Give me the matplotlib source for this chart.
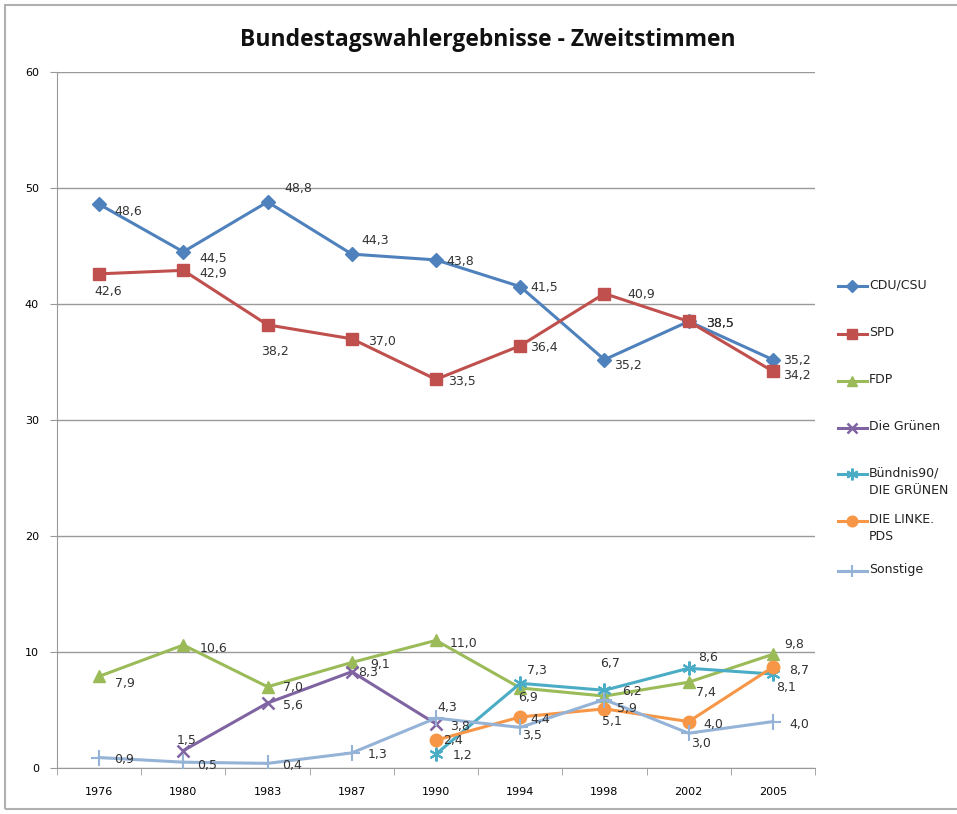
import matplotlib
matplotlib.use("Agg")
import matplotlib.pyplot as plt
from matplotlib.lines import Line2D
from matplotlib.patches import Rectangle
import numpy as np

years = ["1976", "1980", "1983", "1987", "1990", "1994", "1998", "2002", "2005"]
cdu = [48.6, 44.5, 48.8, 44.3, 43.8, 41.5, 35.2, 38.5, 35.2]
spd = [42.6, 42.9, 38.2, 37.0, 33.5, 36.4, 40.9, 38.5, 34.2]
fdp = [7.9, 10.6, 7.0, 9.1, 11.0, 6.9, 6.2, 7.4, 9.8]
gruene = [None, 1.5, 5.6, 8.3, 3.8, None, None, None, None]
buendnis = [None, None, None, None, 1.2, 7.3, 6.7, 8.6, 8.1]
linke = [None, None, None, None, 2.4, 4.4, 5.1, 4.0, 8.7]
sonstige = [0.9, 0.5, 0.4, 1.3, 4.3, 3.5, 5.9, 3.0, 4.0]
labels = ["CDU/CSU", "SPD", "FDP", "Die Grünen", "Bündnis90/\nDIE GRÜNEN", "DIE LINKE.\nPDS", "Sonstige"]

series = [cdu, spd, fdp, gruene, buendnis, linke, sonstige]
colors = ["#4F81BD", "#C0504D", "#9BBB59", "#8064A2", "#4BACC6", "#F79646", "#95B3D7"]
markers = ["D", "s", "^", "x", (6, 2, 0), "o", "+"]
msizes = [7, 8, 9, 9, 10, 9, 11]
mews = [1, 1, 1, 1.8, 1.5, 1, 1.5]

# label offsets in pixels (dx, dy) per series/point
offsets = [
    [(15, -7), (16, -7), (17, 13), (10, 14), (10, -2), (10, -1), (10, -6), (17, -2), (10, -1)],
    [(-5, -18), (16, -3), (-6, -27), (16, -3), (12, -2), (10, -2), (23, -1), (17, -2), (10, -4)],
    [(16, -7), (16, -3), (15, -1), (18, -2), (14, -3), (-2, -10), (18, 5), (7, -10), (11, 10)],
    [None, (-7, 10), (15, -2), (6, -1), (14, -3), None, None, None, None],
    [None, None, None, None, (17, -1), (7, 13), (-4, 27), (9, 11), (3, -13)],
    [None, None, None, None, (7, 0), (10, -3), (-2, -13), (15, -3), (16, -3)],
    [(15, -2), (14, -3), (15, -2), (16, -2), (1, 11), (2, -8), (13, -9), (2, -10), (16, -3)],
]

W, H = 957, 814
fig = plt.figure(figsize=(W / 100, H / 100), dpi=100)
fig.patch.set_facecolor("white")
fig.add_artist(Rectangle((5 / W, 5 / H), 1.0, 1 - 10 / H, transform=fig.transFigure,
                         fill=False, edgecolor="#b0b0b0", linewidth=1.5))

ax = fig.add_axes([57 / W, (H - 768) / H, (815 - 57) / W, (768 - 72) / H])
x = np.arange(len(years))

for s, c, m, ms, mw, offs in zip(series, colors, markers, msizes, mews, offsets):
    y = np.array([np.nan if v is None else v for v in s], dtype=float)
    ax.plot(x, y, color=c, lw=2.2, marker=m, markersize=ms, markeredgewidth=mw,
            markerfacecolor=c, markeredgecolor=c, zorder=3)
    for xi, v, o in zip(x, s, offs):
        if v is None:
            continue
        ax.annotate(f"{v:.1f}".replace(".", ","), (xi, v), xytext=o,
                    textcoords="offset pixels", ha="left", va="center",
                    fontsize=9, color="#333333", zorder=4)

ax.set_xlim(-0.5, len(years) - 0.5)
ax.set_ylim(0, 60)
ax.set_yticks(range(0, 61, 10))
ax.set_yticklabels([str(v) for v in range(0, 61, 10)], fontsize=8)
ax.set_xticks(x)
ax.set_xticklabels(years, fontsize=8)
ax.set_xticks(np.arange(-0.5, len(years), 1), minor=True)
ax.tick_params(axis="x", which="major", length=0, pad=14)
ax.tick_params(axis="x", which="minor", length=5, color="#999999")
ax.tick_params(axis="y", length=5, color="#999999", pad=8)
ax.yaxis.grid(True, color="#999999", lw=1)
ax.set_axisbelow(True)
for sp in ["top", "right"]:
    ax.spines[sp].set_visible(False)
for sp in ["left", "bottom"]:
    ax.spines[sp].set_color("#999999")

fig.text(488 / W, 1 - 40 / H, "Bundestagswahlergebnisse - Zweitstimmen",
         ha="center", va="center", fontsize=16.5, fontweight="bold",
         family="Open Sans", color="#111111")

# legend entries (drawn manually, marker aligned with first text line)
leg_y = [286, 334, 381, 428, 474, 521, 571]
for lab, c, m, ms, mw, ly in zip(labels, colors, markers, msizes, mews, leg_y):
    yf = 1 - ly / H
    fig.add_artist(Line2D([838 / W, 867 / W], [yf, yf], transform=fig.transFigure,
                          color=c, lw=2.2))
    fig.add_artist(Line2D([852 / W], [yf], transform=fig.transFigure, color=c,
                          marker=m, markersize=ms * 0.85, markeredgewidth=mw,
                          markerfacecolor=c, markeredgecolor=c, linestyle="none"))
    fig.text(869 / W, 1 - (ly - 8) / H, lab, ha="left", va="top", fontsize=9,
             color="#222222", linespacing=1.45)

fig.savefig("out.png", dpi=100)
